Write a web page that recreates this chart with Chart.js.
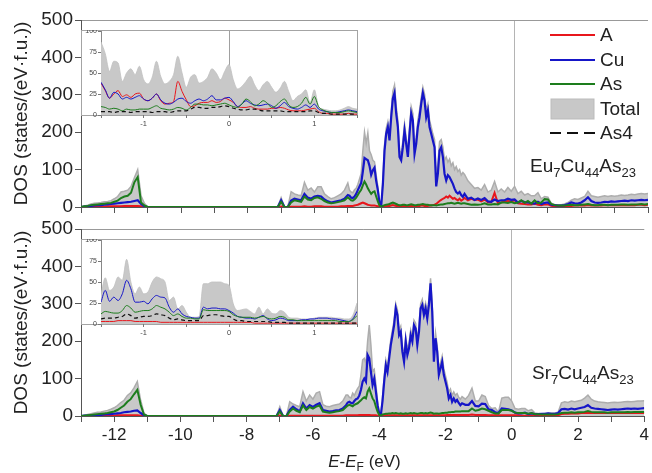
<!DOCTYPE html>
<html>
<head>
<meta charset="utf-8">
<script src="https://cdn.jsdelivr.net/npm/chart.js@4.4.0/dist/chart.umd.min.js"></script>
<style>
  body { margin: 0; width: 652px; height: 473px; overflow: hidden; position: relative; background: #fff;
         font-family: "Liberation Sans", Arial, sans-serif; color: #222; }
  .abs { position: absolute; }
  .inbox { width: 277px; height: 86px; box-sizing: border-box; border: 1px solid #a4a4a4; background: #fff; }
  .formula { font-size: 19px; white-space: nowrap; }
  .formula sub { font-size: 13px; vertical-align: -5px; line-height: 0; }
  .legend div { position: absolute; left: 0; height: 24px; display: flex; align-items: center; font-size: 19px; white-space: nowrap; }
  .legend svg { margin-right: 5px; }
  .xtitle { font-size: 17px; width: 201px; text-align: center; white-space: nowrap; }
  .xtitle sub { font-size: 12px; vertical-align: -4px; line-height: 0; }
</style>
</head>
<body>
<canvas id="mainTop" class="abs" width="652" height="215" style="left:0;top:0"></canvas>
<canvas id="mainBot" class="abs" width="652" height="258" style="left:0;top:215px"></canvas>
<div class="abs inbox" style="left:81px;top:30px"></div>
<div class="abs inbox" style="left:81px;top:239px"></div>
<canvas id="insetTop" class="abs" width="276" height="100" style="left:82px;top:30px"></canvas>
<canvas id="insetBot" class="abs" width="276" height="100" style="left:82px;top:239px"></canvas>
<div id="legend" class="abs legend" style="left:550px;top:23px"></div>
<div class="abs formula" style="left:530px;top:155px">Eu<sub>7</sub>Cu<sub>44</sub>As<sub>23</sub></div>
<div class="abs formula" style="left:532px;top:362px">Sr<sub>7</sub>Cu<sub>44</sub>As<sub>23</sub></div>
<div class="abs xtitle" style="left:264px;top:452px"><i>E</i>-<i>E</i><sub>F</sub> (eV)</div>

<script>
// energy grid of the main panels (eV)
const energy = [
  -13, -12.9, -12.8, -12.7, -12.6, -12.5, -12.4, -12.3, -12.2, -12.1, -12, -11.9, -11.8, -11.7, -11.6, -11.5, -11.4, -11.3, -11.2, -11.1, -11,
  -7.1, -7, -6.9, -6.8, -6.7, -6.6, -6.5, -6.4, -6.3, -6.2, -6.1, -6, -5.9, -5.8, -5.7, -5.6, -5.5, -5.4, -5.3, -5.2, -5.1, -5,
  -4.95, -4.9, -4.85, -4.8, -4.75, -4.7, -4.65, -4.6, -4.55, -4.5,
  -4.45, -4.4, -4.35, -4.3, -4.25, -4.2, -4.15, -4.1, -4.05, -4,
  -3.95, -3.9, -3.85, -3.8, -3.75, -3.7, -3.65, -3.6, -3.55, -3.5,
  -3.45, -3.4, -3.35, -3.3, -3.25, -3.2, -3.15, -3.1, -3.05, -3,
  -2.95, -2.9, -2.85, -2.8, -2.75, -2.7, -2.65, -2.6, -2.55, -2.5,
  -2.45, -2.4, -2.35, -2.3, -2.25, -2.2, -2.15, -2.1, -2.05, -2,
  -1.95, -1.9, -1.85, -1.8, -1.75, -1.7, -1.65, -1.6, -1.55, -1.5,
  -1.4, -1.3, -1.2, -1.1, -1, -0.9, -0.8, -0.7, -0.6, -0.5,
  -0.4, -0.3, -0.2, -0.1, 0, 0.1, 0.2, 0.3, 0.4, 0.5,
  0.6, 0.7, 0.8, 0.9, 1, 1.1, 1.2, 1.3, 1.4, 1.5,
  1.6, 1.7, 1.8, 1.9, 2, 2.1, 2.2, 2.3, 2.4, 2.5,
  2.6, 2.7, 2.8, 2.9, 3, 3.1, 3.2, 3.3, 3.4, 3.5,
  3.6, 3.7, 3.8, 3.9, 4
];

// Eu7Cu44As23
const euTotal = [
  0, 3, 5, 8, 10, 11, 12, 14, 15, 17, 22, 28, 40, 42, 45, 55, 78, 100, 30, 10, 0,
  0, 25, 0, 0, 41, 35, 32, 30, 66, 45, 51, 40, 54, 54, 35, 28, 22, 25, 30, 35, 45, 64,
  45, 40, 38, 46, 50, 60, 75, 90, 150, 200,
  170, 198, 150, 140, 125, 121, 85, 55, 12, 3,
  70, 165, 210, 228, 195, 255, 310, 326, 270, 232,
  150, 142, 176, 222, 186, 150, 212, 268, 250, 160,
  186, 232, 258, 292, 320, 302, 258, 275, 232, 214,
  195, 180, 85, 115, 175, 180, 160, 125, 134, 120,
  128, 110, 118, 100, 108, 95, 100, 85, 92, 87,
  70, 60, 50, 52, 45, 60, 40, 45, 68, 40,
  48, 40, 52, 42, 55, 36, 42, 32, 36, 30,
  30, 38, 22, 28, 26, 10, 7, 6, 6, 8,
  12, 18, 22, 20, 24, 28, 42, 30, 28, 26,
  28, 30, 28, 30, 29, 30, 32, 31, 32, 34,
  33, 35, 36, 35, 36
];
const euA = [
  0, 0, 0, 1, 1, 1, 1, 1, 2, 2, 2, 2, 2, 3, 3, 3, 3, 3, 2, 1, 0,
  0, 1, 0, 0, 1, 1, 1, 1, 2, 1, 1, 2, 2, 2, 1, 1, 1, 1, 1, 2, 2, 3,
  3, 3, 3, 4, 5, 6, 8, 10, 12, 10,
  8, 6, 5, 4, 4, 4, 3, 2, 1, 0,
  1, 2, 2, 3, 3, 4, 5, 4, 3, 3,
  2, 2, 3, 3, 3, 2, 3, 3, 3, 2,
  3, 3, 3, 4, 4, 3, 3, 3, 4, 4,
  5, 6, 8, 12, 16, 19, 22, 24, 28, 25,
  30, 26, 22, 24, 20, 18, 22, 17, 20, 24,
  18, 22, 19, 20, 15, 20, 13, 13, 38, 10,
  12, 15, 16, 15, 18, 10, 9, 8, 7, 7,
  9, 6, 5, 7, 7, 3, 2, 2, 2, 2,
  3, 3, 4, 4, 4, 4, 5, 4, 4, 4,
  4, 5, 5, 5, 5, 5, 5, 5, 5, 5,
  5, 6, 6, 5, 6
];
const euCu = [
  0, 1, 2, 3, 4, 5, 5, 6, 7, 8, 9, 10, 11, 12, 13, 14, 16, 18, 8, 2, 0,
  0, 18, 0, 0, 17, 22, 20, 18, 35, 25, 22, 28, 30, 28, 20, 15, 12, 14, 16, 18, 22, 32,
  30, 25, 24, 28, 35, 45, 55, 64, 95, 131,
  128, 125, 110, 86, 98, 105, 70, 45, 10, 2,
  60, 150, 196, 214, 178, 240, 290, 305, 250, 214,
  134, 125, 160, 205, 169, 134, 196, 250, 231, 142,
  169, 214, 240, 276, 305, 285, 240, 258, 214, 196,
  178, 160, 55, 89, 151, 160, 134, 89, 71, 85,
  80, 71, 62, 49, 40, 36, 40, 32, 27, 35,
  22, 25, 19, 23, 19, 24, 15, 14, 20, 16,
  18, 18, 22, 19, 20, 12, 16, 13, 12, 10,
  9, 14, 8, 11, 12, 6, 5, 4, 4, 5,
  8, 12, 10, 9, 12, 18, 26, 16, 12, 11,
  12, 14, 13, 15, 14, 15, 16, 17, 16, 18,
  17, 18, 19, 18, 19
];
const euAs = [
  0, 2, 3, 5, 6, 7, 8, 9, 10, 11, 14, 17, 24, 28, 30, 38, 66, 80, 12, 4, 0,
  0, 14, 0, 0, 12, 18, 16, 14, 28, 20, 18, 24, 26, 22, 16, 12, 10, 11, 13, 15, 18, 26,
  22, 18, 17, 20, 25, 32, 40, 46, 58, 68,
  60, 50, 42, 35, 40, 42, 28, 15, 4, 1,
  3, 5, 6, 7, 8, 10, 12, 10, 8, 6,
  5, 5, 6, 6, 5, 5, 6, 7, 6, 5,
  5, 6, 6, 7, 8, 7, 6, 6, 5, 5,
  5, 5, 4, 5, 6, 7, 7, 8, 9, 10,
  10, 11, 10, 9, 10, 11, 10, 9, 10, 10,
  8, 6, 7, 6, 7, 10, 7, 7, 8, 7,
  12, 12, 11, 13, 10, 12, 18, 11, 16, 9,
  18, 10, 12, 21, 20, 8, 5, 4, 4, 4,
  5, 6, 5, 5, 6, 7, 8, 6, 5, 5,
  6, 6, 5, 6, 6, 6, 7, 7, 6, 7,
  7, 7, 8, 7, 8
];

// Sr7Cu44As23
const srTotal = [
  0, 2, 4, 6, 8, 10, 11, 13, 15, 18, 22, 28, 36, 42, 55, 62, 75, 92, 42, 8, 0,
  0, 25, 0, 0, 38, 32, 28, 25, 65, 40, 56, 45, 61, 65, 30, 26, 25, 28, 30, 32, 40, 56,
  56, 50, 48, 61, 55, 65, 74, 80, 110, 150,
  154, 140, 200, 243, 190, 120, 125, 85, 40, 10,
  5, 50, 105, 150, 132, 168, 204, 230, 256, 300,
  284, 230, 240, 186, 160, 212, 178, 195, 230, 212,
  256, 248, 205, 240, 300, 312, 285, 302, 276, 312,
  368, 295, 160, 222, 188, 125, 142, 160, 126, 108,
  90, 64, 72, 55, 64, 55, 60, 50, 45, 52,
  45, 55, 74, 40, 40, 56, 52, 28, 20, 22,
  10, 48, 50, 50, 40, 20, 18, 20, 20, 14,
  17, 8, 7, 6, 7, 8, 8, 8, 10, 35,
  38, 36, 40, 38, 40, 42, 48, 56, 45, 40,
  38, 37, 36, 35, 36, 37, 36, 37, 38, 39,
  38, 39, 40, 40, 41
];
const srA = [
  0, 0, 0, 0, 1, 1, 1, 1, 1, 1, 1, 2, 2, 2, 2, 2, 2, 2, 1, 0, 0,
  0, 1, 0, 0, 1, 1, 1, 1, 1, 1, 1, 1, 1, 1, 1, 1, 1, 1, 1, 1, 1, 2,
  2, 2, 2, 2, 2, 2, 2, 3, 3, 3,
  3, 3, 3, 3, 2, 2, 2, 2, 1, 0,
  1, 1, 1, 2, 2, 2, 2, 2, 2, 2,
  2, 2, 2, 2, 2, 2, 2, 2, 2, 2,
  2, 2, 2, 2, 2, 2, 2, 2, 2, 2,
  2, 2, 2, 2, 2, 2, 2, 2, 2, 2,
  3, 3, 3, 3, 3, 3, 3, 3, 3, 3,
  3, 3, 4, 3, 3, 3, 3, 2, 2, 2,
  2, 2, 2, 2, 2, 2, 2, 1, 1, 1,
  1, 1, 1, 1, 1, 1, 1, 1, 2, 5,
  6, 6, 7, 7, 7, 8, 8, 8, 8, 8,
  8, 8, 8, 8, 8, 8, 8, 8, 8, 8,
  8, 8, 8, 8, 8
];
const srCu = [
  0, 1, 1, 2, 2, 3, 3, 4, 5, 5, 6, 7, 8, 10, 11, 12, 14, 15, 8, 2, 0,
  0, 16, 0, 0, 16, 25, 18, 12, 34, 20, 29, 24, 30, 34, 16, 14, 12, 13, 15, 16, 20, 29,
  36, 38, 35, 34, 40, 45, 47, 55, 70, 92,
  100, 92, 163, 154, 118, 83, 100, 65, 29, 7,
  3, 40, 92, 136, 118, 154, 190, 216, 243, 288,
  270, 216, 225, 172, 145, 199, 163, 181, 216, 199,
  243, 234, 190, 225, 288, 297, 270, 288, 261, 297,
  355, 279, 145, 208, 172, 110, 127, 145, 110, 92,
  74, 47, 56, 38, 47, 38, 43, 35, 29, 34,
  30, 30, 40, 27, 26, 33, 32, 18, 16, 10,
  8, 20, 19, 18, 15, 9, 7, 7, 9, 5,
  7, 5, 5, 6, 6, 7, 6, 6, 8, 18,
  19, 17, 20, 18, 20, 22, 24, 29, 22, 20,
  19, 18, 17, 16, 17, 18, 17, 18, 19, 20,
  19, 20, 19, 20, 21
];
const srAs = [
  0, 1, 2, 3, 4, 5, 6, 7, 8, 10, 12, 16, 22, 28, 38, 45, 58, 70, 30, 4, 0,
  0, 12, 0, 0, 12, 20, 14, 10, 28, 16, 24, 20, 25, 28, 12, 10, 9, 10, 12, 13, 16, 24,
  28, 30, 28, 26, 30, 32, 34, 38, 42, 47,
  50, 47, 65, 74, 60, 47, 40, 25, 12, 3,
  2, 4, 5, 6, 6, 7, 7, 8, 7, 8,
  7, 6, 7, 6, 6, 7, 6, 7, 8, 7,
  8, 7, 6, 7, 8, 8, 7, 8, 7, 8,
  9, 8, 6, 7, 7, 6, 7, 8, 8, 9,
  9, 10, 10, 11, 11, 12, 12, 12, 12, 13,
  13, 13, 20, 14, 16, 20, 18, 14, 10, 7,
  7, 16, 16, 16, 14, 9, 8, 8, 8, 6,
  8, 5, 5, 4, 4, 4, 4, 4, 5, 8,
  9, 9, 10, 9, 10, 10, 11, 13, 11, 10,
  10, 10, 10, 9, 10, 10, 10, 10, 10, 11,
  10, 11, 11, 11, 11
];

// insets: zoom on -1.5..1.5 eV
const insetEnergy = [
  -1.5, -1.45, -1.4, -1.35, -1.3, -1.25, -1.2, -1.15, -1.1, -1.05,
  -1, -0.95, -0.9, -0.85, -0.8, -0.75, -0.7, -0.65, -0.6, -0.55,
  -0.5, -0.45, -0.4, -0.35, -0.3, -0.25, -0.2, -0.15, -0.1, -0.05,
  0, 0.05, 0.1, 0.15, 0.2, 0.25, 0.3, 0.35, 0.4, 0.45,
  0.5, 0.55, 0.6, 0.65, 0.7, 0.75, 0.8, 0.85, 0.9, 0.95,
  1, 1.05, 1.1, 1.15, 1.2, 1.25, 1.3, 1.35, 1.4, 1.45,
  1.5
];
const euInTotal = [
  87, 73, 52, 64, 62, 40, 50, 55, 48, 58,
  42, 37, 45, 64, 46, 37, 40, 48, 70, 50,
  33, 45, 48, 38, 40, 45, 55, 50, 42, 52,
  60, 42, 31, 34, 40, 46, 36, 29, 36, 40,
  33, 27, 32, 40, 28, 17, 22, 25, 30, 15,
  30, 10, 7, 6, 5, 5, 6, 8, 10, 8,
  7
];
const euInA = [
  38, 29, 20, 25, 29, 22, 24, 21, 25, 26,
  19, 17, 20, 25, 17, 13, 14, 16, 40, 28,
  18, 10, 11, 14, 15, 15, 17, 15, 16, 20,
  18, 15, 10, 9, 9, 10, 8, 7, 7, 7,
  8, 8, 9, 8, 6, 5, 5, 5, 6, 7,
  8, 4, 2, 2, 1, 1, 1, 1, 2, 1,
  1
];
const euInCu = [
  39, 30, 20, 27, 25, 19, 21, 19, 21, 23,
  19, 17, 20, 25, 18, 14, 13, 15, 19, 20,
  16, 14, 17, 19, 17, 19, 23, 18, 18, 20,
  21, 16, 10, 13, 17, 14, 12, 11, 12, 13,
  11, 8, 11, 15, 10, 8, 7, 9, 12, 9,
  13, 7, 5, 4, 3, 3, 4, 5, 6, 5,
  4
];
const euInAs = [
  10, 9, 7, 8, 7, 5, 7, 6, 6, 7,
  7, 7, 9, 11, 8, 7, 6, 7, 9, 8,
  6, 9, 13, 13, 12, 12, 11, 12, 13, 14,
  12, 10, 9, 13, 19, 16, 11, 13, 17, 14,
  9, 11, 16, 19, 12, 9, 10, 14, 21, 13,
  22, 10, 6, 4, 3, 3, 3, 4, 5, 4,
  3
];
const euInAs4 = [
  4, 4, 4, 3, 4, 4, 4, 3, 4, 4,
  4, 4, 3, 4, 4, 4, 3, 4, 5, 5,
  5, 7, 9, 9, 8, 8, 9, 9, 10, 11,
  10, 8, 7, 6, 6, 7, 7, 6, 5, 5,
  5, 5, 5, 4, 4, 4, 4, 4, 4, 5,
  5, 3, 2, 2, 1, 1, 1, 1, 1, 1,
  1
];
const srInTotal = [
  35, 55, 40, 44, 56, 52, 77, 50, 36, 44,
  36, 38, 50, 56, 54, 50, 28, 32, 18, 22,
  14, 8, 8, 9, 48, 48, 50, 50, 50, 48,
  46, 24, 16, 17, 18, 15, 12, 20, 12, 18,
  13, 12, 16, 14, 8, 7, 7, 6, 6, 6,
  7, 8, 8, 8, 8, 7, 7, 6, 6, 10,
  25
];
const srInA = [
  3, 3, 3, 3, 4, 4, 4, 4, 3, 3,
  3, 3, 3, 3, 2, 2, 2, 2, 2, 2,
  2, 2, 2, 2, 2, 2, 2, 2, 2, 2,
  2, 2, 2, 2, 2, 2, 1, 1, 1, 1,
  1, 1, 1, 1, 1, 1, 1, 1, 1, 1,
  1, 1, 1, 1, 1, 1, 1, 1, 1, 1,
  1
];
const srInCu = [
  26, 40, 27, 32, 28, 36, 52, 42, 26, 26,
  27, 24, 30, 34, 32, 31, 20, 14, 18, 12,
  9, 8, 7, 7, 20, 18, 19, 19, 18, 18,
  16, 13, 9, 8, 7, 7, 6, 8, 10, 6,
  4, 5, 7, 6, 4, 4, 4, 5, 5, 6,
  6, 7, 7, 7, 6, 6, 5, 4, 3, 6,
  15
];
const srInAs = [
  12, 15, 14, 13, 13, 16, 22, 19, 14, 15,
  16, 16, 18, 22, 20, 18, 14, 10, 12, 9,
  7, 7, 6, 6, 17, 16, 16, 16, 16, 16,
  15, 11, 9, 8, 8, 8, 7, 8, 9, 7,
  6, 7, 9, 8, 5, 5, 4, 4, 4, 4,
  4, 4, 4, 4, 4, 4, 3, 3, 3, 5,
  10
];
const srInAs4 = [
  6, 7, 7, 7, 8, 9, 12, 10, 7, 8,
  9, 9, 10, 12, 11, 10, 7, 5, 6, 5,
  4, 4, 4, 4, 10, 10, 11, 11, 10, 9,
  9, 6, 4, 4, 3, 3, 3, 3, 3, 3,
  2, 2, 2, 2, 1, 1, 1, 1, 1, 1,
  1, 1, 1, 1, 1, 1, 1, 1, 1, 1,
  1
];

const seriesNames = ["A", "Cu", "As", "Total", "As4"];
const seriesColors = ["#e8161c", "#1616c8", "#1d7d1d", "#c8c8c8", "#111111"];

Chart.defaults.font.family = '"Liberation Sans", Arial, sans-serif';
Chart.defaults.color = "#222";
Chart.defaults.animation = false;

const clear = "rgba(0,0,0,0)";

function series(xs, ys) {
  return xs.map(function (x, i) { return { x: x, y: ys[i] }; });
}

function makeMain(id, total, a, cu, as, padTop, xHeight, showLabels) {
  const ctx = document.getElementById(id).getContext("2d");
  return new Chart(ctx, {
    type: "line",
    data: {
      datasets: [
        { label: seriesNames[3], data: series(energy, total), borderColor: "#adadad", borderWidth: 1.5,
          backgroundColor: seriesColors[3], fill: "origin", pointRadius: 0, order: 4 },
        { label: seriesNames[0], data: series(energy, a), borderColor: seriesColors[0], borderWidth: 2, pointRadius: 0, order: 3 },
        { label: seriesNames[1], data: series(energy, cu), borderColor: seriesColors[1], borderWidth: 2.2, pointRadius: 0, order: 2 },
        { label: seriesNames[2], data: series(energy, as), borderColor: seriesColors[2], borderWidth: 2, pointRadius: 0, order: 1 }
      ]
    },
    options: {
      responsive: false,
      layout: { padding: { top: padTop, right: 4, left: 0, bottom: 0 } },
      plugins: { legend: { display: false }, tooltip: { enabled: false } },
      scales: {
        x: {
          type: "linear", min: -13, max: 4,
          afterFit: function (s) { s.height = xHeight; },
          border: { display: true, color: "#555" },
          grid: {
            color: function (c) { return c.tick && c.tick.value === 0 ? "#b4b4b4" : clear; },
            tickColor: "#555", tickLength: 6
          },
          ticks: {
            stepSize: 1, autoSkip: false, maxRotation: 0, minRotation: 0, padding: 3,
            font: { size: 17 },
            callback: function (v) { return showLabels && v % 2 === 0 ? String(v) : ""; }
          }
        },
        y: {
          min: 0, max: 500,
          afterFit: function (s) { s.width = 81; s.paddingTop = 0; s.paddingBottom = 0; },
          border: { display: true, color: "#555" },
          grid: {
            color: function (c) { return c.tick && c.tick.value === 500 ? "#999" : clear; },
            tickColor: "#555", tickLength: 6
          },
          ticks: {
            stepSize: 50, padding: 2, font: { size: 19 },
            callback: function (v) { return v % 100 === 0 ? String(v) : ""; }
          },
          title: { display: true, text: "DOS (states/(eV\u00b7f.u.))", font: { size: 19 }, padding: { top: 10, bottom: 0 } }
        }
      }
    }
  });
}

function makeInset(id, total, a, cu, as, as4) {
  const ctx = document.getElementById(id).getContext("2d");
  const smooth = { pointRadius: 0, tension: 0.4, cubicInterpolationMode: "monotone" };
  return new Chart(ctx, {
    type: "line",
    data: {
      datasets: [
        Object.assign({ label: seriesNames[3], data: series(insetEnergy, total), borderColor: "#c0c0c0", borderWidth: 0.8,
          backgroundColor: seriesColors[3], fill: "origin", order: 5 }, smooth),
        Object.assign({ label: seriesNames[0], data: series(insetEnergy, a), borderColor: seriesColors[0], borderWidth: 1, order: 4 }, smooth),
        Object.assign({ label: seriesNames[1], data: series(insetEnergy, cu), borderColor: seriesColors[1], borderWidth: 1, order: 3 }, smooth),
        Object.assign({ label: seriesNames[2], data: series(insetEnergy, as), borderColor: seriesColors[2], borderWidth: 1, order: 2 }, smooth),
        Object.assign({ label: seriesNames[4], data: series(insetEnergy, as4), borderColor: seriesColors[4], borderWidth: 1.2,
          borderDash: [4, 3], order: 1 }, smooth)
      ]
    },
    options: {
      responsive: false,
      layout: { padding: { top: 1, right: 1, left: 0, bottom: 0 } },
      plugins: { legend: { display: false }, tooltip: { enabled: false } },
      scales: {
        x: {
          type: "linear", min: -1.5, max: 1.5, z: 1,
          afterFit: function (s) { s.height = 15; },
          border: { display: false },
          grid: {
            color: function (c) { return c.tick && c.tick.value === 0 ? "#a0a0a0" : clear; },
            tickColor: "#777", tickLength: 3
          },
          ticks: {
            stepSize: 0.5, autoSkip: false, maxRotation: 0, padding: 1, font: { size: 7.5 }, color: "#444",
            callback: function (v) { return Number.isInteger(v) ? String(v) : ""; }
          }
        },
        y: {
          min: 0, max: 100,
          afterFit: function (s) { s.width = 19; s.paddingTop = 0; s.paddingBottom = 0; },
          border: { display: true, color: "#888" },
          grid: { color: clear, tickColor: "#777", tickLength: 3 },
          ticks: { stepSize: 25, padding: 1, font: { size: 7 }, color: "#444" }
        }
      }
    }
  });
}

makeMain("mainTop", euTotal, euA, euCu, euAs, 20, 8, false);
makeMain("mainBot", srTotal, srA, srCu, srAs, 14, 57, true);
makeInset("insetTop", euInTotal, euInA, euInCu, euInAs, euInAs4);
makeInset("insetBot", srInTotal, srInA, srInCu, srInAs, srInAs4);

// legend for the whole figure
const legend = document.getElementById("legend");
seriesNames.forEach(function (name, i) {
  const row = document.createElement("div");
  row.style.top = (i * 24.5) + "px";
  let swatch;
  if (name === "Total") {
    swatch = '<rect x="1" y="2" width="43" height="20" fill="' + seriesColors[i] + '" stroke="#bbb"/>';
  } else if (name === "As4") {
    swatch = '<line x1="0" y1="12" x2="45" y2="12" stroke="' + seriesColors[i] + '" stroke-width="2" stroke-dasharray="11 6"/>';
  } else {
    swatch = '<line x1="0" y1="12" x2="45" y2="12" stroke="' + seriesColors[i] + '" stroke-width="2"/>';
  }
  row.innerHTML = '<svg width="45" height="24">' + swatch + '</svg><span>' + name + '</span>';
  legend.appendChild(row);
});
</script>
</body>
</html>
